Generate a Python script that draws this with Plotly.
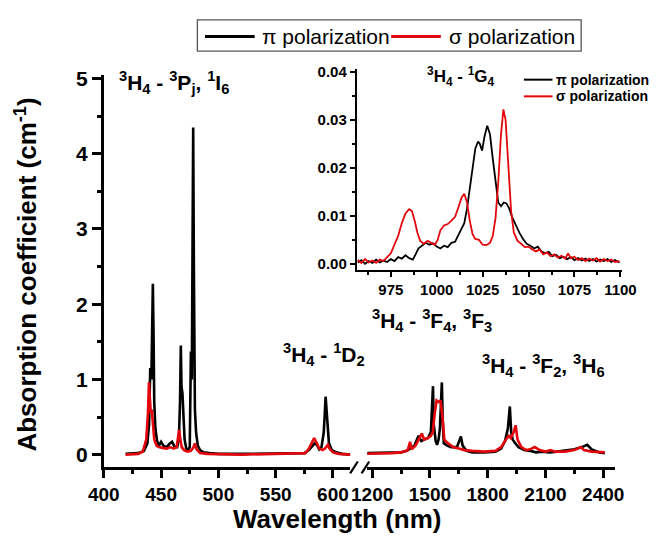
import plotly.graph_objects as go

W, H = 662, 545

# ---- visible / UV part (400-615 nm) ----
vis_nm_pi = [419, 425, 430, 435, 438, 439.5, 440.5, 441.5, 442.2, 442.8, 443.4, 444, 445, 446.5,
             448, 450, 452, 455, 457, 459.5, 462, 464, 465.5, 466.5, 467.2, 467.8, 468.6, 469.5,
             470.5, 472, 473.5, 475, 476, 476.8, 477.4, 478, 478.6, 479.5, 480.5, 482, 484, 487,
             492, 500, 520, 540, 560, 570, 575, 579, 582, 584, 586, 588, 590, 592, 593.6, 595,
             596.5, 599, 603, 608, 616]
vis_abs_pi = [0.01, 0.01, 0.02, 0.05, 0.15, 0.4, 1.15, 1.0, 1.8, 2.27, 1.6, 0.7, 0.35, 0.18,
              0.12, 0.17, 0.12, 0.10, 0.14, 0.17, 0.10, 0.10, 0.2, 0.7, 1.45, 0.9, 0.82, 0.5,
              0.2, 0.08, 0.06, 0.10, 1.37, 1.0, 3.0, 4.35, 2.5, 0.6, 0.3, 0.12, 0.06, 0.03,
              0.02, 0.01, 0.01, 0.01, 0.01, 0.01, 0.02, 0.06, 0.12, 0.15, 0.13, 0.07, 0.10, 0.30,
              0.77, 0.40, 0.15, 0.06, 0.03, 0.01, 0.0]

vis_nm_sigma = [419, 425, 430, 434, 437, 438.5, 439.4, 440.2, 441, 441.8, 442.8, 444, 446, 448,
                451, 455, 458, 461, 463.5, 465, 465.8, 466.8, 468, 470, 473, 476, 478, 479.5,
                481, 484, 490, 520, 550, 570, 576, 579, 581, 583.6, 586, 588, 591, 593, 595.6,
                597, 600, 605, 616]
vis_abs_sigma = [0.0, 0.0, 0.01, 0.04, 0.2, 0.55, 0.96, 0.75, 0.55, 0.6, 0.35, 0.2, 0.12, 0.10,
                 0.09, 0.08, 0.10, 0.08, 0.10, 0.22, 0.33, 0.2, 0.10, 0.06, 0.04, 0.05, 0.09, 0.15,
                 0.07, 0.02, 0.01, 0.0, 0.01, 0.01, 0.02, 0.08, 0.15, 0.22, 0.15, 0.08, 0.06, 0.08,
                 0.13, 0.08, 0.03, 0.01, 0.0]

# ---- near-infrared part (1160-2410 nm) ----
nir_nm_pi = [1165, 1200, 1250, 1300, 1350, 1380, 1400, 1420, 1441, 1455, 1470, 1490, 1505, 1512,
             1516, 1520, 1530, 1537, 1545, 1552, 1558, 1562, 1566, 1572, 1590, 1610, 1640, 1652,
             1661, 1670, 1690, 1720, 1780, 1840, 1870, 1890, 1905, 1915, 1922, 1930, 1940, 1960,
             1990, 2020, 2050, 2080, 2120, 2160, 2200, 2250, 2290, 2317, 2340, 2380, 2408]
nir_abs_pi = [0.02, 0.02, 0.02, 0.02, 0.03, 0.05, 0.08, 0.12, 0.25, 0.18, 0.20, 0.22, 0.30, 0.70,
              0.91, 0.40, 0.18, 0.13, 0.20, 0.35, 0.80, 0.96, 0.50, 0.15, 0.12, 0.10, 0.10, 0.18,
              0.24, 0.12, 0.05, 0.03, 0.03, 0.04, 0.08, 0.18, 0.35, 0.64, 0.30, 0.20, 0.16, 0.10,
              0.06, 0.05, 0.03, 0.04, 0.03, 0.04, 0.05, 0.07, 0.10, 0.13, 0.07, 0.03, 0.02]

nir_nm_sigma = [1160, 1200, 1250, 1300, 1350, 1385, 1397, 1405, 1425, 1440, 1458, 1470, 1490,
                1505, 1515, 1525, 1535, 1545, 1555, 1565, 1575, 1590, 1620, 1650, 1680, 1720,
                1780, 1840, 1870, 1895, 1910, 1920, 1935, 1945, 1955, 1975, 2000, 2020, 2044,
                2070, 2100, 2127, 2150, 2200, 2250, 2284, 2300, 2340, 2408]
nir_abs_sigma = [0.01, 0.01, 0.02, 0.02, 0.03, 0.06, 0.17, 0.07, 0.12, 0.20, 0.28, 0.20, 0.22,
                 0.25, 0.30, 0.55, 0.72, 0.70, 0.72, 0.50, 0.20, 0.16, 0.10, 0.08, 0.06, 0.05,
                 0.04, 0.05, 0.10, 0.20, 0.25, 0.22, 0.30, 0.39, 0.20, 0.10, 0.06, 0.07, 0.10,
                 0.06, 0.04, 0.06, 0.04, 0.04, 0.06, 0.10, 0.06, 0.04, 0.03]

# ---- 3H4 - 1G4 band (inset) ----
g4_nm_pi = [957, 959, 961, 963, 965, 967, 969, 971, 973, 975, 977, 979, 981, 983, 985, 987,
            988.5, 990, 992, 994, 996, 998, 1000, 1002, 1004, 1006, 1008, 1010, 1011.5, 1013,
            1015, 1016.5, 1018, 1019.5, 1021, 1022.5, 1023.5, 1024.7, 1026, 1027.5, 1029,
            1030.5, 1032, 1033.5, 1035, 1036.5, 1038, 1039.5, 1041, 1043, 1045, 1047, 1049,
            1051, 1053, 1055, 1057, 1059, 1061, 1063, 1065, 1067, 1069, 1071, 1073, 1075, 1077,
            1079, 1081, 1083, 1085, 1087, 1089, 1091, 1093, 1095, 1097, 1099.5]
g4_abs_pi = [0.0003, 0.0008, 0.0000, 0.0006, 0.0002, 0.0009, 0.0003, 0.0007, 0.0004, 0.0010,
             0.0006, 0.0014, 0.0011, 0.0018, 0.0012, 0.0009, 0.0020, 0.0032, 0.0038, 0.0044,
             0.0040, 0.0043, 0.0036, 0.0032, 0.0038, 0.0035, 0.0044, 0.0046, 0.0058, 0.0070,
             0.0085, 0.0115, 0.0160, 0.0205, 0.0240, 0.0255, 0.0250, 0.0236, 0.0265, 0.0288,
             0.0270, 0.0220, 0.0170, 0.0128, 0.0120, 0.0128, 0.0126, 0.0115, 0.0098, 0.0080,
             0.0065, 0.0052, 0.0042, 0.0038, 0.0032, 0.0036, 0.0026, 0.0022, 0.0025, 0.0016,
             0.0019, 0.0012, 0.0015, 0.0010, 0.0014, 0.0008, 0.0012, 0.0007, 0.0011, 0.0006,
             0.0010, 0.0005, 0.0009, 0.0006, 0.0010, 0.0004, 0.0008, 0.0003]

g4_nm_sigma = [957, 959, 961, 963, 965, 967, 969, 971, 973, 975, 977, 979, 981, 983, 985,
               986.5, 988, 989.5, 991, 993, 995, 997, 999, 1000.5, 1002, 1004, 1006, 1008,
               1010, 1012, 1013.5, 1015, 1016.5, 1018, 1019.5, 1021, 1023, 1025, 1027, 1029,
               1030.5, 1032, 1033.5, 1035, 1036.3, 1037.5, 1039, 1040.5, 1042, 1044, 1046,
               1048, 1050, 1052, 1054, 1056, 1058, 1060, 1062, 1064, 1066, 1068, 1070, 1071.5,
               1073, 1075, 1077, 1079, 1081, 1083, 1085, 1087, 1089, 1091, 1093, 1095, 1097,
               1099.5]
g4_abs_sigma = [0.0008, 0.0002, 0.0010, 0.0003, 0.0007, 0.0002, 0.0009, 0.0006, 0.0014, 0.0022,
                0.0040, 0.0058, 0.0085, 0.0105, 0.0114, 0.0110, 0.0090, 0.0065, 0.0048, 0.0042,
                0.0048, 0.0044, 0.0040, 0.0050, 0.0070, 0.0080, 0.0083, 0.0090, 0.0098, 0.0120,
                0.0138, 0.0146, 0.0128, 0.0090, 0.0062, 0.0052, 0.0050, 0.0040, 0.0039, 0.0044,
                0.0058, 0.0095, 0.0170, 0.0270, 0.0322, 0.0300, 0.0200, 0.0110, 0.0065, 0.0048,
                0.0042, 0.0035, 0.0036, 0.0030, 0.0026, 0.0030, 0.0020, 0.0024, 0.0016, 0.0020,
                0.0013, 0.0017, 0.0011, 0.0022, 0.0012, 0.0015, 0.0008, 0.0012, 0.0006, 0.0011,
                0.0007, 0.0012, 0.0005, 0.0010, 0.0006, 0.0009, 0.0004, 0.0006]

vis_ticks = [400, 450, 500, 550, 600]
nir_ticks = [1200, 1500, 1800, 2100, 2400]
abs_ticks = [0, 1, 2, 3, 4, 5]
g4_xticks = [975, 1000, 1025, 1050, 1075, 1100]
g4_yticks = [0.0, 0.01, 0.02, 0.03, 0.04]
g4_yticktext = ["0.00", "0.01", "0.02", "0.03", "0.04"]

PI_LABEL = "π polarization"
SIGMA_LABEL = "σ polarization"

BLACK = "#000000"
RED = "#e3070d"
FONT = "Liberation Sans, Arial, sans-serif"


def fx(px):
    return px / W


def fy(py):
    return 1 - py / H


fig = go.Figure()

fig.add_trace(go.Scatter(x=vis_nm_pi, y=vis_abs_pi, mode="lines", xaxis="x", yaxis="y",
                         line=dict(color=BLACK, width=2.6), showlegend=False))
fig.add_trace(go.Scatter(x=vis_nm_sigma, y=vis_abs_sigma, mode="lines", xaxis="x", yaxis="y",
                         line=dict(color=RED, width=2.6), showlegend=False))
fig.add_trace(go.Scatter(x=nir_nm_pi, y=nir_abs_pi, mode="lines", xaxis="x2", yaxis="y",
                         line=dict(color=BLACK, width=2.6), showlegend=False))
fig.add_trace(go.Scatter(x=nir_nm_sigma, y=nir_abs_sigma, mode="lines", xaxis="x2", yaxis="y",
                         line=dict(color=RED, width=2.6), showlegend=False))
fig.add_trace(go.Scatter(x=g4_nm_pi, y=g4_abs_pi, mode="lines", xaxis="x3", yaxis="y3",
                         line=dict(color=BLACK, width=1.8), showlegend=False))
fig.add_trace(go.Scatter(x=g4_nm_sigma, y=g4_abs_sigma, mode="lines", xaxis="x3", yaxis="y3",
                         line=dict(color=RED, width=1.8), showlegend=False))

main_tick_font = dict(family=FONT, size=19, color=BLACK, weight="bold")
inset_tick_font = dict(family=FONT, size=15, color=BLACK, weight="bold")

common_axis = dict(showgrid=False, zeroline=False, showline=True, linecolor=BLACK,
                   ticks="outside", tickcolor=BLACK)

fig.update_layout(
    width=W, height=H,
    margin=dict(l=0, r=0, t=0, b=0),
    paper_bgcolor="white", plot_bgcolor="rgba(0,0,0,0)",
    showlegend=False,
    xaxis=dict(**common_axis, domain=[fx(92), fx(350)], range=[400, 615], anchor="y",
               tickvals=vis_ticks, linewidth=3, ticklen=8, tickwidth=2.5,
               minor=dict(tickvals=[425, 475, 525, 575], ticks="outside", ticklen=4,
                          tickwidth=2.5, tickcolor=BLACK),
               tickfont=main_tick_font),
    xaxis2=dict(**common_axis, domain=[fx(368), fx(627)], range=[1175, 2459], anchor="y",
                tickvals=nir_ticks, linewidth=3, ticklen=8, tickwidth=2.5,
                minor=dict(tickvals=[1350, 1650, 1950, 2250], ticks="outside", ticklen=4,
                           tickwidth=2.5, tickcolor=BLACK),
                tickfont=main_tick_font),
    yaxis=dict(**common_axis, domain=[fy(468), fy(68)], range=[-0.17, 5.05], anchor="x",
               tickvals=abs_ticks, linewidth=3, ticklen=9, tickwidth=2.5,
               minor=dict(tickvals=[0.5, 1.5, 2.5, 3.5, 4.5], ticks="outside", ticklen=4,
                          tickwidth=2.5, tickcolor=BLACK),
               tickfont=dict(family=FONT, size=21, color=BLACK, weight="bold")),
    xaxis3=dict(**common_axis, domain=[fx(357), fx(635)], range=[956.5, 1101], anchor="y3",
                tickvals=g4_xticks, linewidth=2, ticklen=5, tickwidth=2,
                minor=dict(tickvals=[962.5, 987.5, 1012.5, 1037.5, 1062.5, 1087.5],
                           ticks="outside", ticklen=3, tickwidth=2, tickcolor=BLACK),
                tickfont=inset_tick_font),
    yaxis3=dict(**common_axis, domain=[fy(266.7), fy(62)], range=[-0.00123, 0.04063],
                anchor="x3", tickvals=g4_yticks, ticktext=g4_yticktext, linewidth=2,
                ticklen=5, tickwidth=2,
                minor=dict(tickvals=[0.005, 0.015, 0.025, 0.035], ticks="outside",
                           ticklen=3, tickwidth=2, tickcolor=BLACK),
                tickfont=inset_tick_font),
)

shapes = []
# axis break marks
for x0 in (350, 362):
    shapes.append(dict(type="line", xref="paper", yref="paper",
                       x0=fx(x0), y0=fy(474), x1=fx(x0 + 8), y1=fy(462),
                       line=dict(color=BLACK, width=2.2)))
# top legend box and samples
shapes.append(dict(type="rect", xref="paper", yref="paper",
                   x0=fx(190), y0=fy(44), x1=fx(592), y1=fy(12),
                   line=dict(color="#555555", width=1.3)))
shapes.append(dict(type="line", xref="paper", yref="paper",
                   x0=fx(198), y0=fy(29), x1=fx(250), y1=fy(29),
                   line=dict(color=BLACK, width=3)))
shapes.append(dict(type="line", xref="paper", yref="paper",
                   x0=fx(393), y0=fy(29), x1=fx(445), y1=fy(29),
                   line=dict(color=RED, width=3)))
# inset legend samples
shapes.append(dict(type="line", xref="paper", yref="paper",
                   x0=fx(532), y0=fy(73), x1=fx(562), y1=fy(73),
                   line=dict(color=BLACK, width=2)))
shapes.append(dict(type="line", xref="paper", yref="paper",
                   x0=fx(532), y0=fy(90), x1=fx(562), y1=fy(90),
                   line=dict(color=RED, width=2)))
fig.update_layout(shapes=shapes)


def note(text, px, py, size, bold=True, xanchor="center", angle=0):
    fig.add_annotation(text=text, xref="paper", yref="paper", x=fx(px), y=fy(py),
                       xanchor=xanchor, yanchor="middle", showarrow=False, textangle=angle,
                       font=dict(family=FONT, size=size, color=BLACK,
                                 weight="bold" if bold else "normal"))


note(PI_LABEL, 256, 29, 21, bold=False, xanchor="left")
note(SIGMA_LABEL, 451, 29, 21, bold=False, xanchor="left")
note(PI_LABEL, 564, 73, 14, xanchor="left")
note(SIGMA_LABEL, 564, 90, 14, xanchor="left")

note("<sup>3</sup>H<sub>4</sub> - <sup>3</sup>P<sub>j</sub>, <sup>1</sup>I<sub>6</sub>", 166, 76, 21)
note("<sup>3</sup>H<sub>4</sub> - <sup>1</sup>D<sub>2</sub>", 323, 353, 21)
note("<sup>3</sup>H<sub>4</sub> - <sup>3</sup>F<sub>4</sub>, <sup>3</sup>F<sub>3</sub>", 436, 318, 21)
note("<sup>3</sup>H<sub>4</sub> - <sup>3</sup>F<sub>2</sub>, <sup>3</sup>H<sub>6</sub>", 553, 364, 21)
note("<sup>3</sup>H<sub>4</sub> - <sup>1</sup>G<sub>4</sub>", 466, 70, 17)

note("Wavelength (nm)", 336, 521, 26)
note("Absorption coefficient (cm<sup>-1</sup>)", 10, 272, 26, angle=-90)

fig.write_html("out.html", post_script="document.body.style.margin='0px';")
